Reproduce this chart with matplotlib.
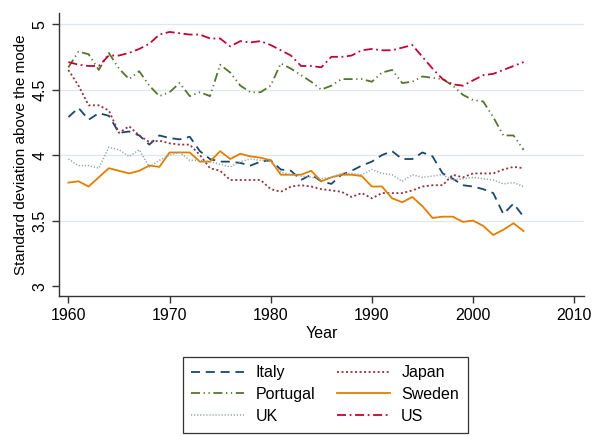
import matplotlib
matplotlib.use("Agg")
import matplotlib.pyplot as plt

plt.rcParams['font.family'] = ['Liberation Sans', 'DejaVu Sans']

years = list(range(1960, 2006))

italy = [4.29, 4.36, 4.27, 4.32, 4.30, 4.17, 4.18, 4.15, 4.08, 4.15,
         4.13, 4.12, 4.14, 4.03, 3.97, 3.95, 3.95, 3.94, 3.92, 3.95,
         3.96, 3.89, 3.88, 3.81, 3.85, 3.80, 3.78, 3.85, 3.88, 3.92,
         3.95, 4.00, 4.03, 3.97, 3.97, 4.02, 3.99, 3.86, 3.82, 3.77,
         3.76, 3.74, 3.71, 3.55, 3.63, 3.53]
japan = [4.65, 4.53, 4.38, 4.38, 4.34, 4.17, 4.22, 4.15, 4.10, 4.11,
         4.09, 4.08, 4.08, 4.00, 3.90, 3.88, 3.81, 3.81, 3.81, 3.81,
         3.74, 3.72, 3.76, 3.77, 3.76, 3.74, 3.73, 3.72, 3.68, 3.71,
         3.67, 3.71, 3.71, 3.71, 3.73, 3.76, 3.77, 3.77, 3.85, 3.83,
         3.86, 3.86, 3.86, 3.89, 3.91, 3.90]
portugal = [4.67, 4.79, 4.77, 4.65, 4.78, 4.66, 4.58, 4.64, 4.53, 4.45,
            4.48, 4.55, 4.45, 4.48, 4.45, 4.69, 4.63, 4.53, 4.48, 4.48,
            4.53, 4.70, 4.66, 4.61, 4.56, 4.50, 4.53, 4.58, 4.58, 4.58,
            4.56, 4.63, 4.65, 4.55, 4.56, 4.60, 4.59, 4.58, 4.53, 4.46,
            4.42, 4.41, 4.29, 4.15, 4.15, 4.04]
sweden = [3.79, 3.80, 3.76, 3.83, 3.90, 3.88, 3.86, 3.88, 3.92, 3.91,
          4.02, 4.02, 4.02, 3.95, 3.95, 4.03, 3.97, 4.01, 3.99, 3.98,
          3.96, 3.85, 3.85, 3.85, 3.88, 3.80, 3.83, 3.85, 3.85, 3.84,
          3.76, 3.76, 3.67, 3.64, 3.68, 3.61, 3.52, 3.53, 3.53, 3.49,
          3.50, 3.46, 3.39, 3.43, 3.48, 3.42]
uk = [3.97, 3.92, 3.92, 3.90, 4.06, 4.04, 3.99, 4.04, 3.91, 3.96,
      4.00, 4.02, 3.96, 3.96, 3.95, 3.93, 3.91, 3.95, 3.97, 3.96,
      3.95, 3.87, 3.85, 3.84, 3.83, 3.82, 3.83, 3.86, 3.86, 3.85,
      3.89, 3.86, 3.85, 3.80, 3.85, 3.83, 3.84, 3.85, 3.81, 3.82,
      3.83, 3.82, 3.81, 3.78, 3.79, 3.76]
us = [4.71, 4.69, 4.68, 4.68, 4.76, 4.76, 4.78, 4.81, 4.85, 4.92,
      4.94, 4.93, 4.92, 4.92, 4.89, 4.89, 4.83, 4.87, 4.86, 4.87,
      4.84, 4.80, 4.76, 4.68, 4.68, 4.67, 4.75, 4.75, 4.76, 4.80,
      4.81, 4.80, 4.80, 4.82, 4.84, 4.75, 4.66, 4.58, 4.54, 4.53,
      4.57, 4.61, 4.62, 4.65, 4.68, 4.71]

fig = plt.figure(figsize=(6, 4.36), dpi=100)
ax = fig.add_axes([0.0988, 0.321, 0.875, 0.649])

lw = 1.3
l_it, = ax.plot(years, italy, color='#1a476f', lw=lw, dashes=(5, 3.2), label='Italy')
l_jp, = ax.plot(years, japan, color='#90353b', lw=lw, dashes=(1.1, 1.4), label='Japan')
l_pt, = ax.plot(years, portugal, color='#55752f', lw=lw,
                dashes=(5, 2, 0.7, 2, 0.7, 2), label='Portugal')
l_sw, = ax.plot(years, sweden, color='#e37e00', lw=lw, label='Sweden')
l_uk, = ax.plot(years, uk, color='#8fa8a4', lw=1.1, dashes=(0.8, 1.2), label='UK')
l_us, = ax.plot(years, us, color='#c10534', lw=lw, dashes=(5, 2, 1, 2), label='US')

ax.set_xlim(1959.1, 2011.0)
ax.set_ylim(2.924, 5.084)
ax.set_xticks([1960, 1970, 1980, 1990, 2000, 2010])
ax.set_yticks([3, 3.5, 4, 4.5, 5])
ax.set_yticklabels(['3', '3.5', '4', '4.5', '5'], rotation=90, va='center')
for y in [3.5, 4, 4.5, 5]:
    ax.axhline(y, color='#dfe8ec', lw=0.9, zorder=0)

ax.spines['top'].set_visible(False)
ax.spines['right'].set_visible(False)
for s in ['left', 'bottom']:
    ax.spines[s].set_color('#333333')
    ax.spines[s].set_linewidth(1.0)
ax.tick_params(colors='#333333', length=5, width=1.0, labelsize=11.5, labelcolor='black')

ax.set_xlabel('Year', fontsize=11.5, labelpad=2)
ax.set_ylabel('Standard deviation above the mode', fontsize=11, labelpad=3)

leg = fig.legend(handles=[l_it, l_pt, l_uk, l_jp, l_sw, l_us], ncol=2,
                 loc='center', bbox_to_anchor=(0.542, 0.095), fontsize=11.5,
                 frameon=True, fancybox=False, edgecolor='black',
                 handlelength=3.3, handletextpad=0.7, columnspacing=1.4,
                 labelspacing=0.42, borderpad=0.55)
leg.get_frame().set_linewidth(0.9)

fig.savefig('out.png', dpi=100)
